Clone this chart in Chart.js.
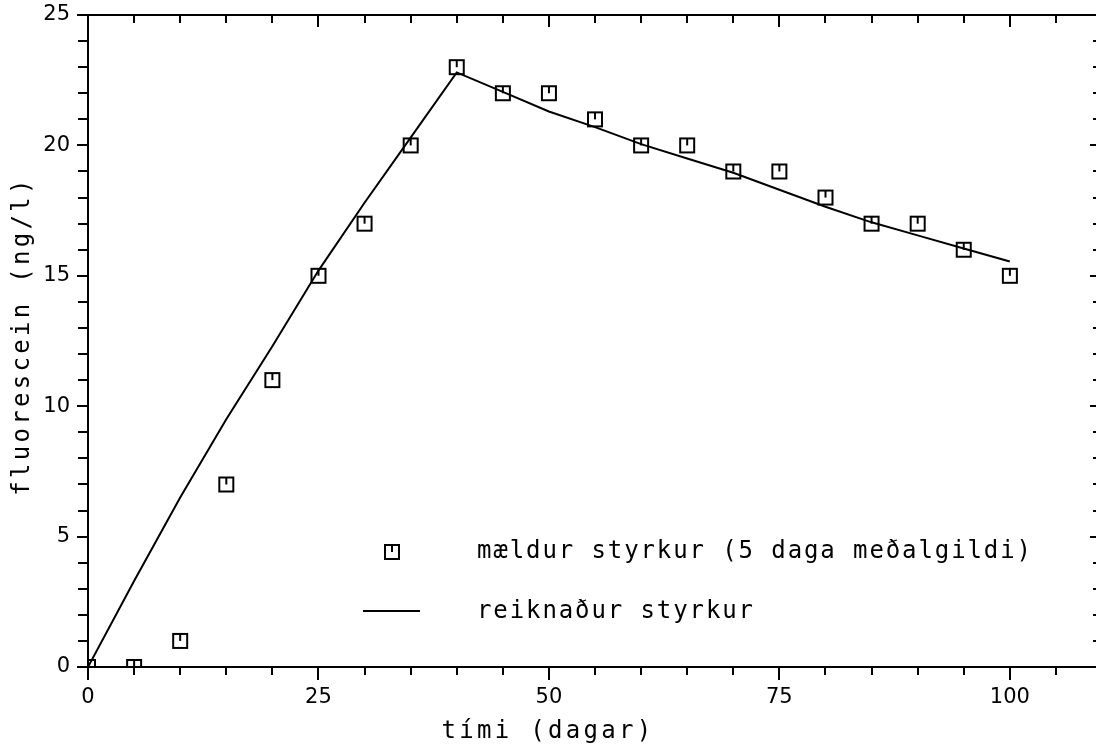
<!DOCTYPE html>
<html>
<head>
<meta charset="utf-8">
<script src="https://cdn.jsdelivr.net/npm/chart.js@4/dist/chart.umd.min.js"></script>
<style>
  html, body { margin: 0; padding: 0; background: #fff; overflow: hidden; }
  #wrap { width: 1110px; height: 750px; }
</style>
</head>
<body>
<div id="wrap"><canvas id="c" width="1110" height="750"></canvas></div>
<script>
// Measured concentration (5-day means)
const measuredDays = [0, 5, 10, 15, 20, 25, 30, 35, 40, 45, 50, 55, 60, 65, 70, 75, 80, 85, 90, 95, 100];
const measuredVals = [0, 0, 1, 7, 11, 15, 17, 20, 23, 22, 22, 21, 20, 20, 19, 19, 18, 17, 17, 16, 15];

// Calculated concentration curve
const calcDays = [0, 5, 10, 15, 20, 25, 30, 35, 40, 45, 50, 55, 60, 65, 70, 75, 80, 85, 90, 95, 100];
const calcVals = [0, 3.3, 6.5, 9.5, 12.3, 15.2, 17.8, 20.3, 22.8, 22.05, 21.3, 20.7, 20.05, 19.5, 18.95, 18.3, 17.65, 17.05, 16.55, 16.05, 15.55];

// Labels and axis texts
const seriesLabels = ['mældur styrkur (5 daga meðalgildi)', 'reiknaður styrkur'];
const xTitle = 'tími (dagar)';
const yTitle = 'fluorescein (ng/l)';
const xTickLabels = [0, 25, 50, 75, 100];
const yTickLabels = [0, 5, 10, 15, 20, 25];

const INK = '#000';
const TEXT_FONT = '24px "DejaVu Sans Mono"';

// Square marker with a short stem hanging from the top edge
const marker = document.createElement('canvas');
marker.width = 18; marker.height = 18;
(() => {
  const m = marker.getContext('2d');
  m.strokeStyle = INK; m.lineWidth = 2;
  m.strokeRect(2, 2, 14, 14);
  m.beginPath(); m.moveTo(9, 2); m.lineTo(9, 9); m.stroke();
})();

// Frame with tick marks on all four sides
const framePlugin = {
  id: 'frame',
  beforeDatasetsDraw(chart) {
    const { ctx, chartArea: { left, right, top, bottom }, scales: { x, y } } = chart;
    ctx.save();
    ctx.strokeStyle = INK; ctx.lineWidth = 2; ctx.lineCap = 'butt';
    ctx.beginPath();
    ctx.rect(left, top, right - left, bottom - top);
    x.ticks.forEach(t => {
      const px = Math.round(x.getPixelForValue(t.value));
      const major = t.value % 25 === 0;
      ctx.moveTo(px, bottom); ctx.lineTo(px, bottom + (major ? 13 : 8));
      ctx.moveTo(px, top); ctx.lineTo(px, top + (major ? 12 : 8));
    });
    y.ticks.forEach(t => {
      const py = Math.round(y.getPixelForValue(t.value));
      const major = t.value % 5 === 0;
      ctx.moveTo(left - (major ? 11 : 10), py); ctx.lineTo(left, py);
      ctx.moveTo(right - (major ? 12 : 9), py); ctx.lineTo(right, py);
    });
    ctx.stroke();
    ctx.restore();
  }
};

// Axis titles and the in-plot legend
const textPlugin = {
  id: 'texts',
  afterDraw(chart) {
    const { ctx } = chart;
    ctx.save();
    ctx.fillStyle = INK;
    ctx.font = TEXT_FONT;
    ctx.letterSpacing = '3.3px';
    ctx.textAlign = 'center';
    ctx.textBaseline = 'alphabetic';
    ctx.fillText(xTitle, 548, 738);
    ctx.save();
    ctx.translate(29, 336);
    ctx.rotate(-Math.PI / 2);
    ctx.fillText(yTitle, 0, 0);
    ctx.restore();

    ctx.letterSpacing = '1.9px';
    ctx.textAlign = 'left';
    const ds = chart.data.datasets;
    // row 1: marker entry
    ctx.drawImage(marker, 392 - 9, 552 - 9);
    ctx.fillText(ds[0].label, 477, 558);
    // row 2: line entry
    ctx.strokeStyle = INK; ctx.lineWidth = 2;
    ctx.beginPath(); ctx.moveTo(363, 611); ctx.lineTo(420, 611); ctx.stroke();
    ctx.fillText(ds[1].label, 477, 618);
    ctx.restore();
  }
};

// Invisible tick marks only reserve the gap between axis and labels
const gapGrid = { display: true, drawOnChartArea: false, tickLength: 18, tickColor: 'rgba(0,0,0,0)', color: 'rgba(0,0,0,0)' };

new Chart(document.getElementById('c'), {
  type: 'scatter',
  data: {
    datasets: [
      {
        label: seriesLabels[0],
        data: measuredDays.map((d, i) => ({ x: d, y: measuredVals[i] })),
        pointStyle: marker,
        pointRadius: 9,
        showLine: false
      },
      {
        label: seriesLabels[1],
        type: 'line',
        data: calcDays.map((d, i) => ({ x: d, y: calcVals[i] })),
        borderColor: INK,
        borderWidth: 2,
        pointRadius: 0,
        tension: 0,
        fill: false
      }
    ]
  },
  options: {
    responsive: false,
    animation: false,
    events: [],
    layout: { autoPadding: false, padding: { left: 0, top: 15, right: 8, bottom: 0 } },
    plugins: { legend: { display: false }, tooltip: { enabled: false } },
    scales: {
      x: {
        type: 'linear', min: 0, max: 110,
        grid: gapGrid, border: { display: false },
        ticks: {
          stepSize: 5, autoSkip: false, maxRotation: 0, padding: 0,
          color: INK, font: { family: 'DejaVu Sans', size: 21 },
          callback: v => xTickLabels.includes(v) ? String(v) : ''
        },
        afterFit(s) { s.height = 83; }
      },
      y: {
        type: 'linear', min: 0, max: 25,
        grid: gapGrid, border: { display: false },
        ticks: {
          stepSize: 1, autoSkip: false, padding: 0,
          color: INK, font: { family: 'DejaVu Sans', size: 21 },
          callback: v => yTickLabels.includes(v) ? String(v) : ''
        },
        afterFit(s) { s.width = 88; }
      }
    }
  },
  plugins: [framePlugin, textPlugin]
});
</script>
</body>
</html>
